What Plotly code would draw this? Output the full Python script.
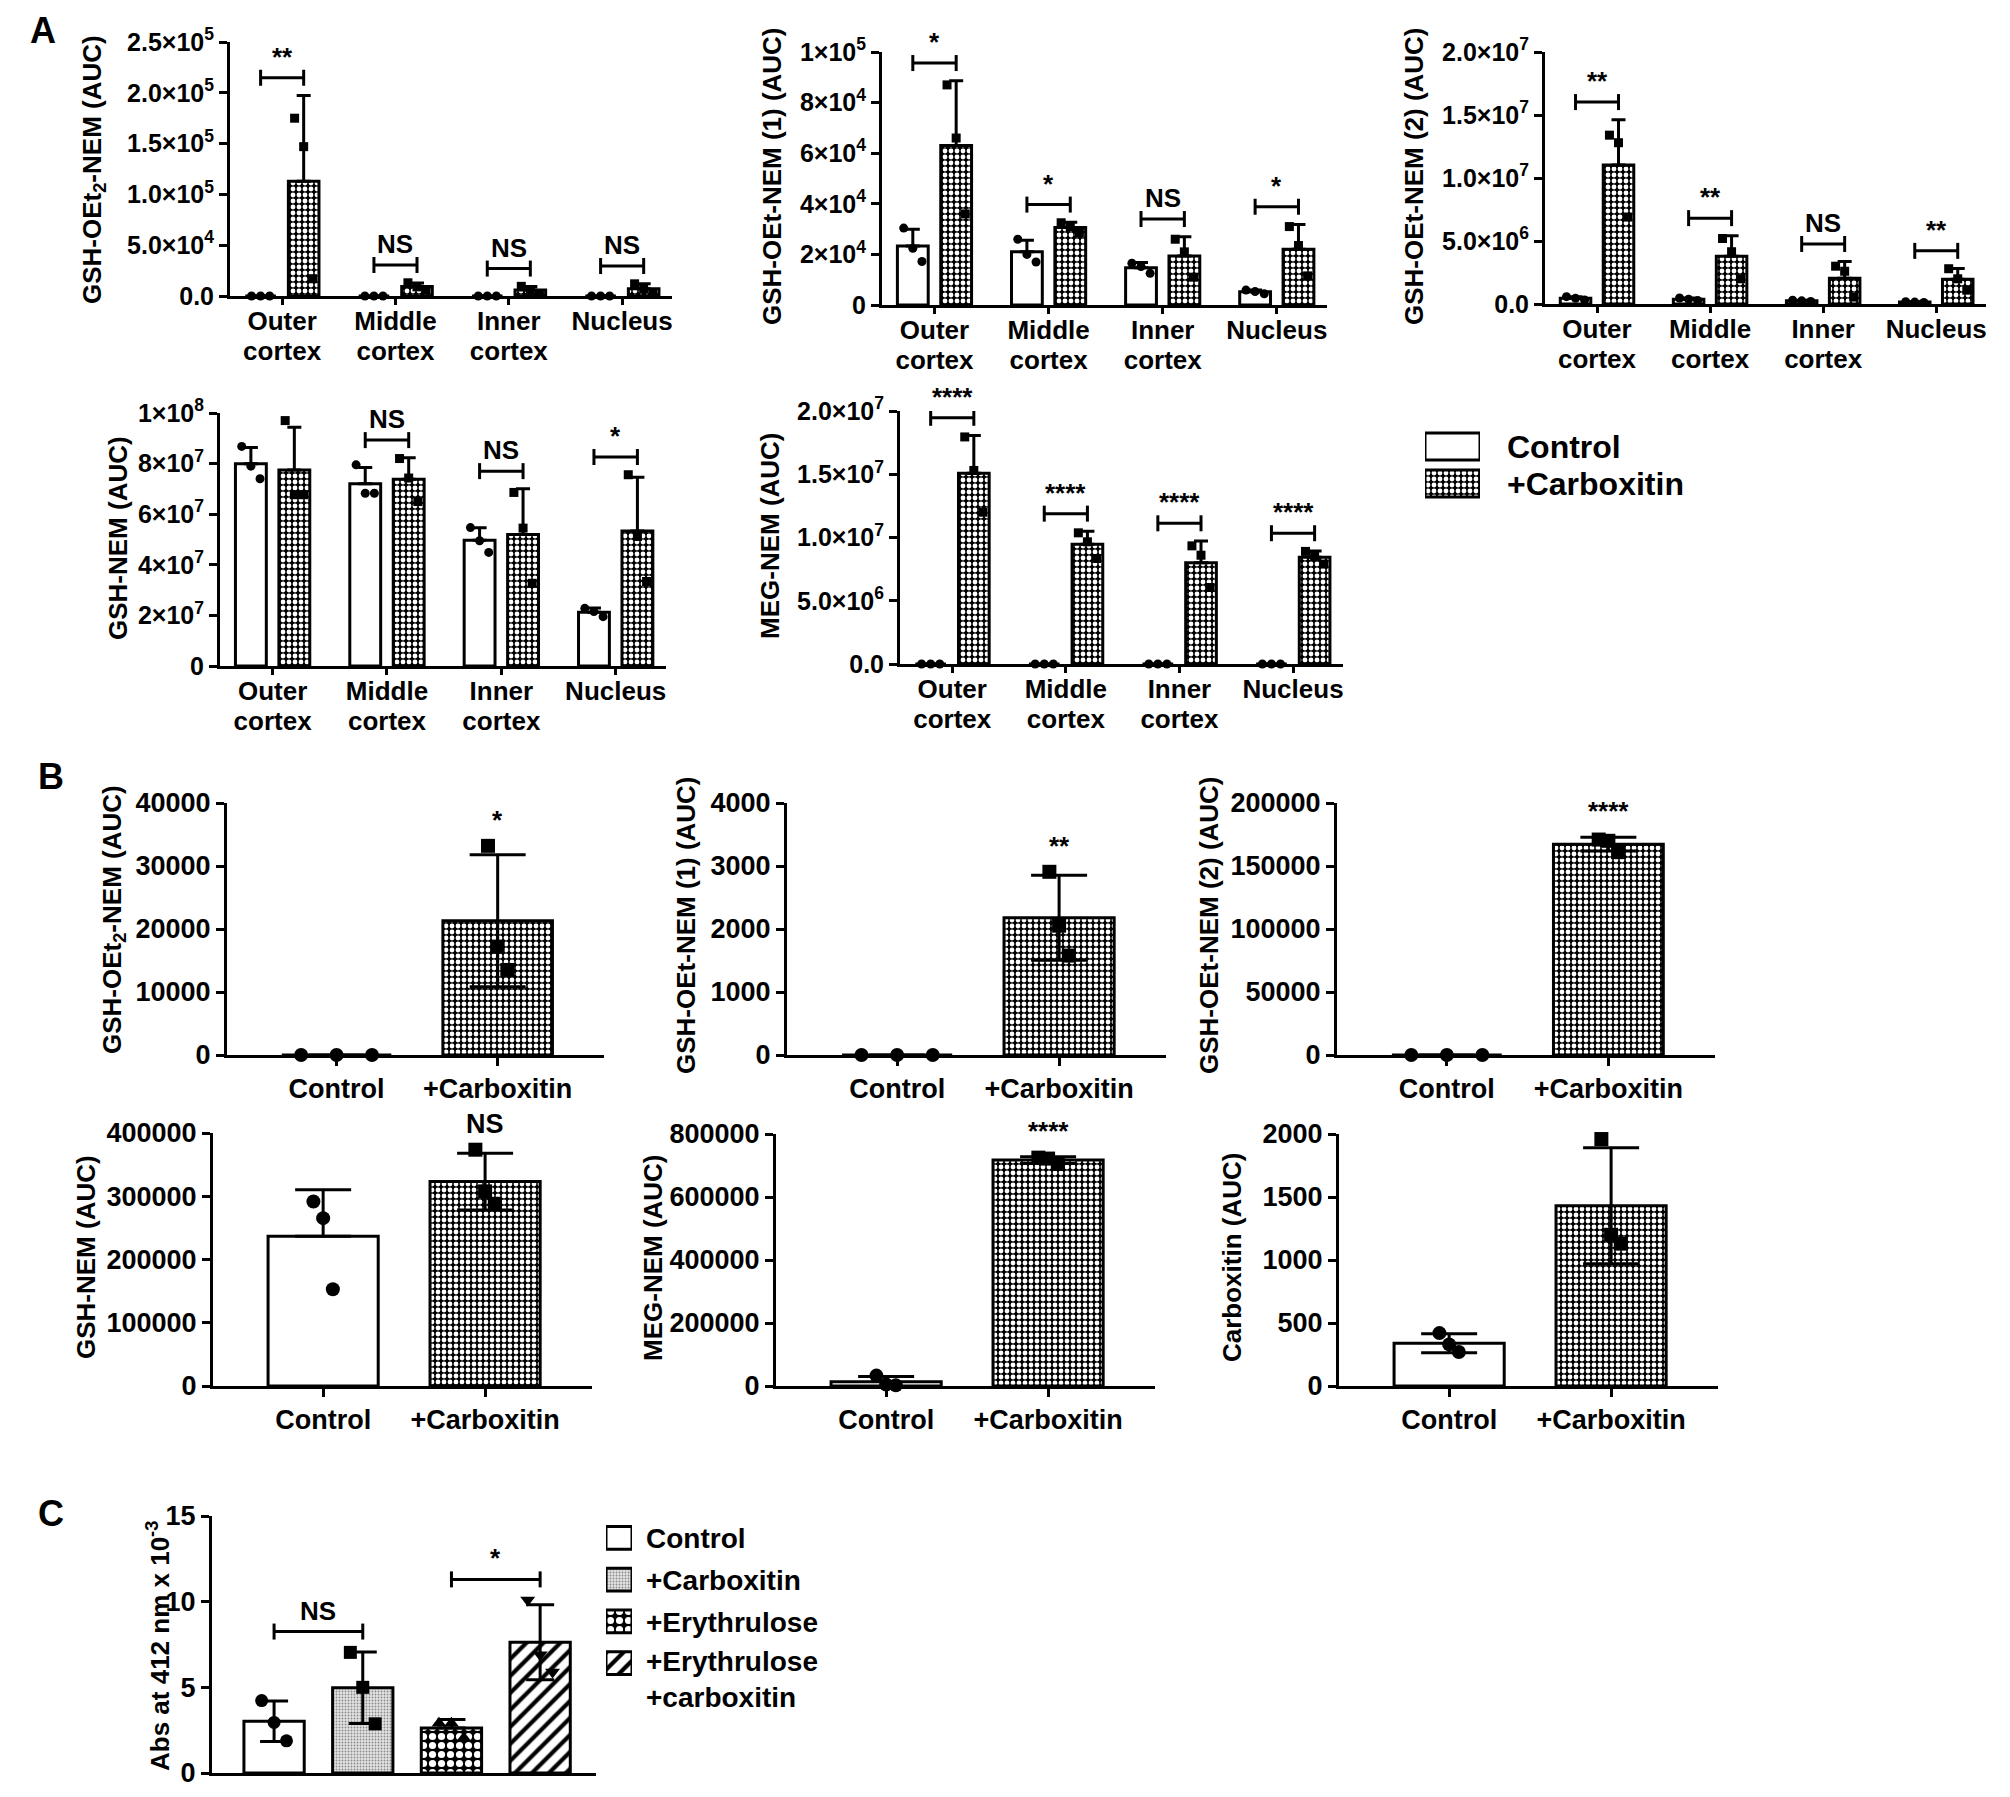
import numpy as np
import plotly.graph_objects as go

W, H = 2010, 1797
OFF_X, OFF_Y = 0, 8  # page body margin compensation (px)
FONT = "Liberation Sans, Arial, Helvetica, sans-serif"

# ---------------- data ----------------
region_line1 = ["Outer", "Middle", "Inner", "Nucleus"]
region_line2 = ["cortex", "cortex", "cortex", ""]
b_labels = ["Control", "+Carboxitin"]
legend_a_labels = ["Control", "+Carboxitin"]
legend_c_labels = ["Control", "+Carboxitin", "+Erythrulose", "+Erythrulose<br>+carboxitin"]

# Panel A (3 replicates per lens region)
a1_title = "GSH-OEt<sub>2</sub>-NEM (AUC)"
a1_control = [[0, 0, 0], [0, 0, 0], [0, 0, 0], [0, 0, 0]]
a1_carbox = [[175000, 147000, 17000], [13000, 9000, 6000], [9500, 5600, 2300], [12000, 7200, 2300]]
a1_sig = ["**", "NS", "NS", "NS"]
a1_ticks = [0, 5e4, 1e5, 1.5e5, 2e5, 2.5e5]
a1_ticktext = ["0.0", "5.0×10<sup>4</sup>", "1.0×10<sup>5</sup>", "1.5×10<sup>5</sup>",
               "2.0×10<sup>5</sup>", "2.5×10<sup>5</sup>"]

a2_title = "GSH-OEt-NEM (1) (AUC)"
a2_control = [[30400, 22400, 17200], [26000, 20000, 17000], [16500, 15200, 12500], [5900, 5300, 4400]]
a2_carbox = [[87000, 66000, 36000], [32500, 31000, 28500], [26000, 21000, 11000], [31000, 23500, 11500]]
a2_sig = ["*", "*", "NS", "*"]
a2_ticks = [0, 2e4, 4e4, 6e4, 8e4, 1e5]
a2_ticktext = ["0", "2×10<sup>4</sup>", "4×10<sup>4</sup>", "6×10<sup>4</sup>", "8×10<sup>4</sup>",
               "1×10<sup>5</sup>"]

a3_title = "GSH-OEt-NEM (2) (AUC)"
a3_control = [[580000, 450000, 320000], [480000, 380000, 280000], [300000, 250000, 200000],
              [180000, 150000, 120000]]
a3_carbox = [[13400000, 12800000, 6900000], [5200000, 4150000, 2000000], [3000000, 2600000, 550000],
             [2800000, 2000000, 1100000]]
a3_sig = ["**", "**", "NS", "**"]
a3_ticks = [0, 5e6, 1e7, 1.5e7, 2e7]
a3_ticktext = ["0.0", "5.0×10<sup>6</sup>", "1.0×10<sup>7</sup>", "1.5×10<sup>7</sup>", "2.0×10<sup>7</sup>"]

a4_title = "GSH-NEM (AUC)"
a4_control = [[86800000, 79000000, 74000000], [79500000, 68300000, 68300000],
              [54700000, 49500000, 44900000], [22800000, 21500000, 19500000]]
a4_carbox = [[97000000, 67700000, 67700000], [82000000, 74300000, 65000000],
             [68600000, 54500000, 32700000], [75600000, 51200000, 33400000]]
a4_sig = ["NS", "NS", "NS", "*"]
a4_ticks = [0, 2e7, 4e7, 6e7, 8e7, 1e8]
a4_ticktext = ["0", "2×10<sup>7</sup>", "4×10<sup>7</sup>", "6×10<sup>7</sup>", "8×10<sup>7</sup>",
               "1×10<sup>8</sup>"]

a5_title = "MEG-NEM (AUC)"
a5_control = [[0, 0, 0], [0, 0, 0], [0, 0, 0], [0, 0, 0]]
a5_carbox = [[17950000, 15300000, 12000000], [10370000, 9660000, 8340000],
             [9340000, 8600000, 6050000], [8900000, 8500000, 7900000]]
a5_sig = ["****", "****", "****", "****"]
a5_ticks = [0, 5e6, 1e7, 1.5e7, 2e7]
a5_ticktext = ["0.0", "5.0×10<sup>6</sup>", "1.0×10<sup>7</sup>", "1.5×10<sup>7</sup>", "2.0×10<sup>7</sup>"]

# Panel B (whole lens, 3 replicates)
b1_title = "GSH-OEt<sub>2</sub>-NEM (AUC)"
b1_control = [0, 0, 0]
b1_carbox = [33200, 17200, 13500]
b1_sig = "*"
b1_ticks = [0, 10000, 20000, 30000, 40000]

b2_title = "GSH-OEt-NEM (1) (AUC)"
b2_control = [0, 0, 0]
b2_carbox = [2908, 2053, 1578]
b2_sig = "**"
b2_ticks = [0, 1000, 2000, 3000, 4000]

b3_title = "GSH-OEt-NEM (2) (AUC)"
b3_control = [0, 0, 0]
b3_carbox = [171000, 170000, 161000]
b3_sig = "****"
b3_ticks = [0, 50000, 100000, 150000, 200000]

b4_title = "GSH-NEM (AUC)"
b4_control = [291800, 265400, 153000]
b4_carbox = [373600, 307700, 288100]
b4_sig = "NS"
b4_ticks = [0, 100000, 200000, 300000, 400000]

b5_title = "MEG-NEM (AUC)"
b5_control = [33000, 5000, 2000]
b5_carbox = [725000, 722000, 705000]
b5_sig = "****"
b5_ticks = [0, 200000, 400000, 600000, 800000]

b6_title = "Carboxitin (AUC)"
b6_control = [420, 330, 270]
b6_carbox = [1960, 1200, 1130]
b6_sig = "*"
b6_ticks = [0, 500, 1000, 1500, 2000]

# Panel C
c_title = "Abs at 412 nm x 10<sup>-3</sup>"
c_control = [4.23, 2.95, 1.88]
c_carbox = [7.04, 5.0, 2.87]
c_eryth = [2.91, 2.91, 2.04]
c_eryth_carbox = [10.1, 6.9, 5.9]
c_brackets = [(0, 1, "NS"), (2, 3, "*")]
c_ticks = [0, 5, 10, 15]

# ---------------- styles ----------------
LW = 3
WHITE_FILL = dict(color="white", line=dict(color="black", width=LW))
CHECK_FILL = dict(color="black", line=dict(color="black", width=LW),
                  pattern=dict(shape=".", fgcolor="white", bgcolor="black", size=6, solidity=0.5,
                               fillmode="replace"))
CHECK_BIG = dict(color="black", line=dict(color="black", width=LW),
                 pattern=dict(shape=".", fgcolor="white", bgcolor="black", size=9, solidity=0.5,
                              fillmode="replace"))
STIPPLE_FILL = dict(color="#d8d8d8", line=dict(color="black", width=LW),
                    pattern=dict(shape=".", fgcolor="#8a8a8a", bgcolor="#e4e4e4", size=3, solidity=0.3,
                                 fillmode="replace"))
HATCH_FILL = dict(color="white", line=dict(color="black", width=LW),
                  pattern=dict(shape="/", fgcolor="black", bgcolor="white", size=12, solidity=0.35,
                               fillmode="replace"))

traces = []
shapes = []
annotations = []
layout = dict(width=W, height=H, margin=dict(l=0, r=0, t=0, b=0, autoexpand=False), paper_bgcolor="white",
              plot_bgcolor="rgba(0,0,0,0)",
              font=dict(family=FONT, size=27, color="black", weight="bold"),
              showlegend=False)

AX = dict(showline=True, linewidth=LW, linecolor="black", ticks="outside", ticklen=8, tickwidth=LW,
          tickcolor="black", showgrid=False, zeroline=False, fixedrange=True, layer="above traces",
          automargin=False)


def names(i):
    if i == 1:
        return "xaxis", "yaxis", "x", "y"
    return f"xaxis{i}", f"yaxis{i}", f"x{i}", f"y{i}"


def set_axes(i, xpx, ypx, xrange, yrange, xtv, xtt, ytv, ytt, yfont=27, xfont=27, xticks="outside",
             show_x=True, show_y=True, xticklen=8, xstandoff=0):
    xn, yn, xr, yr = names(i)
    x0, x1 = xpx[0] - OFF_X, xpx[1] - OFF_X
    y0, y1 = ypx[0] - OFF_Y, ypx[1] - OFF_Y
    layout[xn] = dict(AX, domain=[x0 / W, x1 / W], range=xrange, anchor=yr, tickmode="array",
                      tickvals=xtv, ticktext=xtt, ticks=xticks, showline=show_x, ticklen=xticklen,
                      ticklabelstandoff=xstandoff,
                      tickfont=dict(size=xfont, family=FONT, weight="bold"))
    layout[yn] = dict(AX, domain=[1 - y1 / H, 1 - y0 / H], range=yrange, anchor=xr,
                      tickmode="array", tickvals=ytv, ticktext=ytt, showline=show_y,
                      tickfont=dict(size=yfont, family=FONT, weight="bold"))
    return xr, yr


def ytitle(text, cx, cy, size=26):
    annotations.append(dict(xref="paper", yref="paper", x=(cx - OFF_X) / W, y=1 - (cy - OFF_Y) / H,
                            text=text, textangle=-90, showarrow=False, xanchor="center", yanchor="middle",
                            font=dict(size=size, family=FONT, weight="bold")))


def label(text, x, y, size, xanchor="left"):
    annotations.append(dict(xref="paper", yref="paper", x=(x - OFF_X) / W, y=1 - (y - OFF_Y) / H,
                            text=text, showarrow=False, xanchor=xanchor, yanchor="middle", align="left",
                            font=dict(size=size, family=FONT, weight="bold")))


def bracket(xr, yr, xa, xb, h, text, size=26, tick=8):
    shapes.append(dict(type="line", xref=xr, yref=yr, x0=xa, x1=xb, y0=h, y1=h,
                       line=dict(color="black", width=LW)))
    for xv in (xa, xb):
        shapes.append(dict(type="line", xref=xr, yref=yr, ysizemode="pixel", yanchor=h, x0=xv, x1=xv,
                           y0=-tick, y1=tick, line=dict(color="black", width=LW)))
    annotations.append(dict(xref=xr, yref=yr, x=(xa + xb) / 2, y=h, text=text, showarrow=False,
                            yanchor="bottom", xanchor="center", yshift=4,
                            font=dict(size=size, family=FONT, weight="bold")))


def stats(vals):
    v = np.asarray(vals, dtype=float)
    return v.mean(), v.std(ddof=1)


def bars_and_points(xr, yr, xs, groups, fill, width, symbol, msize, spread, lower, ebw):
    means = [stats(g)[0] for g in groups]
    sds = [stats(g)[1] for g in groups]
    traces.append(go.Bar(x=xs, y=means, width=width, marker=fill, xaxis=xr, yaxis=yr, cliponaxis=False,
                         error_y=dict(type="data", symmetric=False, array=sds,
                                      arrayminus=sds if lower else [0] * len(sds),
                                      color="black", thickness=LW, width=ebw),
                         hoverinfo="skip"))
    px, py = [], []
    for xc, g in zip(xs, groups):
        sp = spread(g) if callable(spread) else spread
        offs = np.linspace(-sp, sp, len(g))
        for o, v in zip(offs, g):
            px.append(xc + o)
            py.append(v)
    traces.append(go.Scatter(x=px, y=py, mode="markers", xaxis=xr, yaxis=yr, cliponaxis=False,
                             marker=dict(symbol=symbol, size=msize, color="black",
                                         line=dict(color="black", width=0)), hoverinfo="skip"))
    return means, sds


# ---------------- panel A ----------------
A_OFF, A_W = 0.19, 0.27
A_XR = [-0.46, 3.44]
a_panels = [
    (1, (222, 664), (42, 296), a1_title, (86, 170), a1_control, a1_carbox, a1_sig, a1_ticks, a1_ticktext),
    (2, (874, 1319), (52, 305), a2_title, (764, 176), a2_control, a2_carbox, a2_sig, a2_ticks, a2_ticktext),
    (3, (1537, 1978), (52, 304), a3_title, (1406, 176), a3_control, a3_carbox, a3_sig, a3_ticks, a3_ticktext),
    (4, (212, 658), (413, 666), a4_title, (110, 538), a4_control, a4_carbox, a4_sig, a4_ticks, a4_ticktext),
    (5, (892, 1335), (411, 664), a5_title, (762, 536), a5_control, a5_carbox, a5_sig, a5_ticks, a5_ticktext),
]
for (i, xpx, ypx, title, tpos, ctrl, carb, sig, yt, ytt) in a_panels:
    ymax = yt[-1]
    gx = list(range(len(region_line1)))
    xr, yr = set_axes(i, xpx, ypx, A_XR, [0, ymax], gx, region_line1, yt, ytt,
                      yfont=25, xfont=26, xticklen=6, xstandoff=-6)
    # second line of the category labels on an overlaid x axis
    j = 20 + i
    layout[f"xaxis{j}"] = dict(overlaying=xr, anchor=yr, side="bottom", range=A_XR, tickmode="array",
                               tickvals=gx, ticktext=region_line2, ticks="", ticklen=0, showline=False,
                               showgrid=False, zeroline=False, fixedrange=True, automargin=False,
                               ticklabelstandoff=37,
                               tickfont=dict(size=26, family=FONT, weight="bold"))
    traces.append(go.Scatter(x=[], y=[], xaxis=f"x{j}", yaxis=yr, hoverinfo="skip"))
    gxa = np.array(gx)
    m1, s1 = bars_and_points(xr, yr, gxa - A_OFF, ctrl, WHITE_FILL, A_W, "circle", 9, 0.08, False, 7)
    m2, s2 = bars_and_points(xr, yr, gxa + A_OFF, carb, CHECK_FILL, A_W, "square", 9, 0.08, False, 7)
    for k in range(len(region_line1)):
        top = max(max(ctrl[k]), max(carb[k]), m1[k] + s1[k], m2[k] + s2[k])
        bracket(xr, yr, gxa[k] - A_OFF, gxa[k] + A_OFF, top + 0.07 * ymax, sig[k])
    ytitle(title, *tpos)

# legend A (swatches drawn as bars on a small helper axis)
xr, yr = set_axes(13, (1417, 1472), (428, 502), [0, 1], [-0.5, 1.5], [], [], [], [],
                  xticks="", show_x=False, show_y=False)
layout["yaxis13"]["ticks"] = ""
for row, fill in zip([1, 0], [WHITE_FILL, CHECK_FILL]):
    traces.append(go.Bar(x=[1], y=[row], orientation="h", width=0.73, marker=fill, xaxis=xr, yaxis=yr,
                         cliponaxis=False, hoverinfo="skip"))
label(legend_a_labels[0], 1497, 447, 32)
label(legend_a_labels[1], 1497, 484, 32)

# ---------------- panel B ----------------
B_XR = [-0.68, 1.66]
b_panels = [
    (6, (219, 596), (803, 1055), b1_title, (105, 920), b1_control, b1_carbox, b1_sig, b1_ticks, False),
    (7, (779, 1158), (803, 1055), b2_title, (678, 925), b2_control, b2_carbox, b2_sig, b2_ticks, False),
    (8, (1329, 1707), (803, 1055), b3_title, (1201, 925), b3_control, b3_carbox, b3_sig, b3_ticks, False),
    (9, (205, 584), (1133, 1386), b4_title, (78, 1257), b4_control, b4_carbox, b4_sig, b4_ticks, False),
    (10, (768, 1147), (1134, 1386), b5_title, (645, 1258), b5_control, b5_carbox, b5_sig, b5_ticks, True),
    (11, (1331, 1710), (1134, 1386), b6_title, (1224, 1258), b6_control, b6_carbox, b6_sig, b6_ticks, True),
]
for (i, xpx, ypx, title, tpos, ctrl, carb, sig, yt, ctrl_lower) in b_panels:
    ymax = yt[-1]
    xr, yr = set_axes(i, xpx, ypx, B_XR, [0, ymax], [0, 1], b_labels, yt, [str(t) for t in yt])
    spread = lambda g: 0.22 if np.ptp(g) == 0 else 0.06
    m1, s1 = bars_and_points(xr, yr, [0], [ctrl], WHITE_FILL, 0.68, "circle", 14, spread, ctrl_lower, 28)
    m2, s2 = bars_and_points(xr, yr, [1], [carb], CHECK_FILL, 0.68, "square", 14, spread, True, 28)
    top = max(max(carb), m2[0] + s2[0])
    annotations.append(dict(xref=xr, yref=yr, x=1, y=top + 0.035 * ymax, text=sig, showarrow=False,
                            yanchor="bottom", xanchor="center",
                            font=dict(size=26 if sig != "NS" else 27, family=FONT, weight="bold")))
    ytitle(title, *tpos)

# ---------------- panel C ----------------
xr, yr = set_axes(12, (204, 588), (1516, 1773), [-0.70, 3.63], [0, 15], [], [], c_ticks,
                  [str(t) for t in c_ticks], xticks="")
c_groups = [c_control, c_carbox, c_eryth, c_eryth_carbox]
c_fills = [WHITE_FILL, STIPPLE_FILL, CHECK_BIG, HATCH_FILL]
c_symbols = ["circle", "square", "triangle-up", "triangle-down"]
c_lower = [True, True, False, True]
c_means, c_sds = [], []
for k, (g, f, s, lw) in enumerate(zip(c_groups, c_fills, c_symbols, c_lower)):
    m, sd = bars_and_points(xr, yr, [k], [g], f, 0.68, s, 13, 0.14, lw, 14)
    c_means.append(m[0])
    c_sds.append(sd[0])
for (a, b, txt) in c_brackets:
    top = max(max(c_groups[a]), max(c_groups[b]), c_means[a] + c_sds[a], c_means[b] + c_sds[b])
    bracket(xr, yr, a, b, top + 0.08 * 15, txt)
ytitle(c_title, 150, 1646, 26)

# legend C
xr, yr = set_axes(14, (598, 624), (1517, 1684), [0, 1], [-0.5, 3.5], [], [], [], [],
                  xticks="", show_x=False, show_y=False)
layout["yaxis14"]["ticks"] = ""
for row, fill in zip([3, 2, 1, 0], c_fills):
    traces.append(go.Bar(x=[1], y=[row], orientation="h", width=0.55, marker=fill, xaxis=xr, yaxis=yr,
                         cliponaxis=False, hoverinfo="skip"))
row_centers = [1538, 1580, 1622, 1663]
for txt, yc in zip(legend_c_labels, row_centers):
    nlines = txt.count("<br>") + 1
    label(txt, 636, yc + (nlines - 1) * 16, 28)

# panel letters
label("A", 20, 31, 36)
label("B", 28, 776, 36)
label("C", 28, 1513, 36)

layout["shapes"] = shapes
layout["annotations"] = annotations
layout["barmode"] = "overlay"

fig = go.Figure(data=traces, layout=layout)
fig.write_html("out.html")
